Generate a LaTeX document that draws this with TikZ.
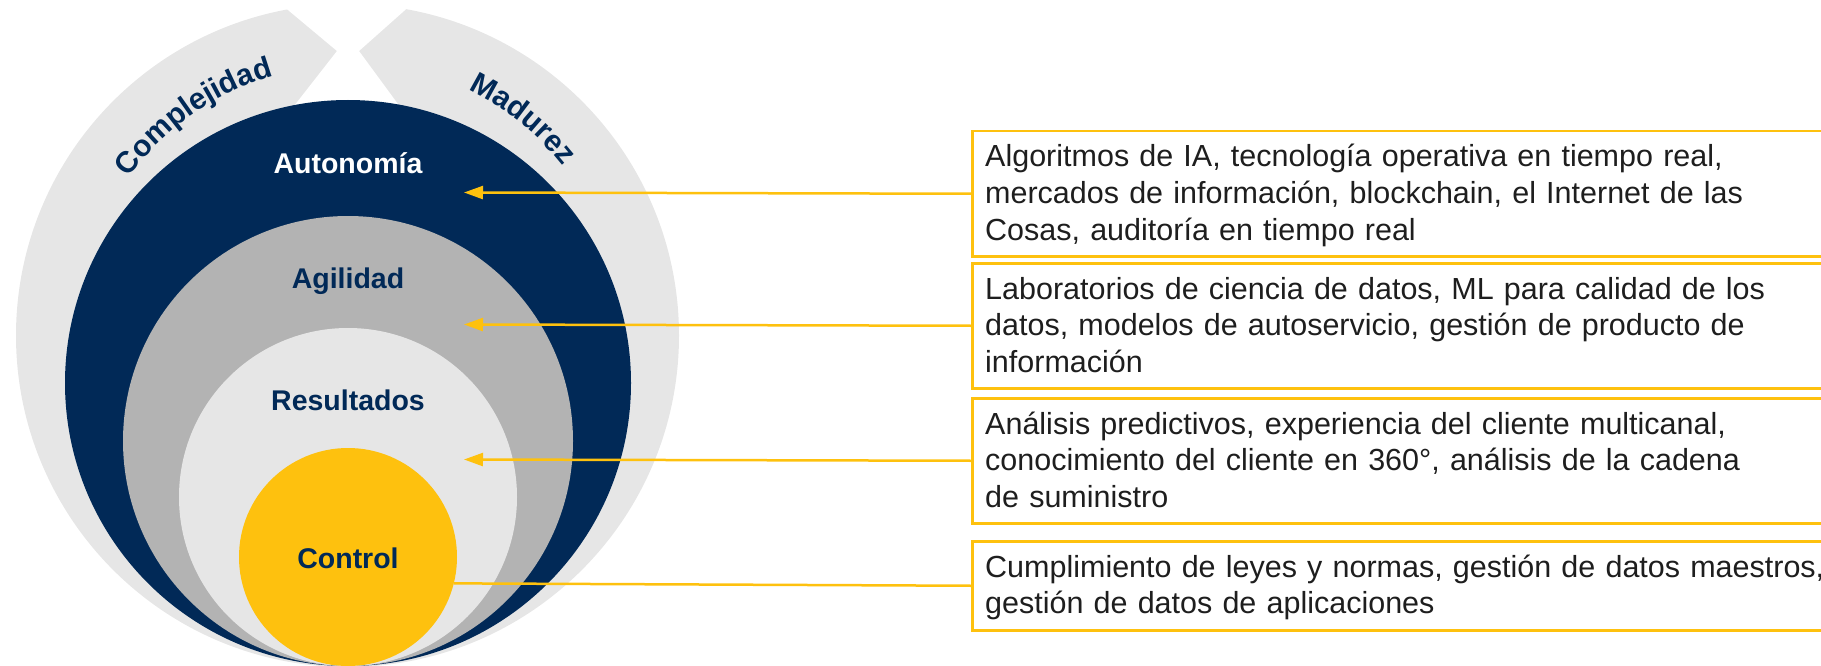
\documentclass[tikz,border=0pt]{standalone}
\usepackage{fontspec}
\setmainfont{Liberation Sans}
\usetikzlibrary{arrows.meta,decorations.text}
\definecolor{navy}{HTML}{012957}
\definecolor{gold}{HTML}{FEC10E}
\definecolor{midgray}{HTML}{B3B3B3}
\definecolor{palegray}{HTML}{E6E6E6}
\definecolor{ink}{HTML}{1E1E1E}
\begin{document}
\begin{tikzpicture}[x=1pt,y=1pt,
  disc/.style={circle, inner sep=0pt, outer sep=0pt, minimum size=#1},
  lbl/.style={font=\fontsize{28.5}{30}\selectfont\bfseries, text=navy, anchor=base, inner sep=0pt},
  infobox/.style={draw=gold, line width=2.5pt, minimum width=900, anchor=north west, inner sep=0pt},
  infotext/.style={font=\fontsize{30.5}{36.7}\selectfont, text=ink, align=left, text width=860, anchor=base west, inner sep=0pt},
  arr/.style={draw=gold, line width=2.5pt, -{Triangle[length=19pt,width=13pt]}},
  link/.style={draw=gold, line width=2.5pt}
]
\useasboundingbox (0,0) rectangle (1821,-666);
\clip (0,0) rectangle (1821,-666);

% concentric discs
\node[disc=663, fill=palegray] (outer) at (347.5,-335.5) {};
\fill[white] (270,5) -- (337,-51) -- (287,-115) -- (406,-115) -- (359,-51) -- (422,5) -- cycle;
\node[disc=566, fill=navy] (auto) at (348,-383) {};
\node[disc=450, fill=midgray] (agil) at (348,-441) {};
\node[disc=338, fill=palegray] (res) at (348,-497) {};
\node[disc=218, fill=gold] (ctl) at (348,-557) {};

% labels
\node[lbl, text=white] (tauto) at (348,-173) {Autonomía};
\node[lbl] (tagil) at (348,-288) {Agilidad};
\node[lbl] (tres) at (348,-410) {Resultados};
\node[lbl] (tctl) at (348,-568) {Control};

% curved labels
\path[decorate, decoration={text along path, text align=center,
  text={|\fontsize{30}{32}\selectfont\bfseries\color{navy}|Complejidad}}]
  (347.5,-335.5) ++(152:270) arc[start angle=152, end angle=98, radius=270];
\path[decorate, decoration={text along path, text align=center,
  text={|\fontsize{30}{32}\selectfont\bfseries\color{navy}|Madurez}}]
  (347.5,-335.5) ++(78:274) arc[start angle=78, end angle=24, radius=274];

% boxes
\node[infobox, minimum height=125] (b1) at (971,-130) {};
\node[infobox, minimum height=125] (b2) at (971,-262) {};
\node[infobox, minimum height=125] (b3) at (971,-397) {};
\node[infobox, minimum height=89] (b4) at (971,-540) {};

\node[infotext] (t1) at (985,-167) {Algoritmos de IA, tecnología operativa en tiempo real,\\mercados de información, blockchain, el Internet de las\\Cosas, auditoría en tiempo real};
\node[infotext] (t2) at (985,-299) {Laboratorios de ciencia de datos, ML para calidad de los\\datos, modelos de autoservicio, gestión de producto de\\información};
\node[infotext] (t3) at (985,-434) {Análisis predictivos, experiencia del cliente multicanal,\\conocimiento del cliente en 360°, análisis de la cadena\\de suministro};
\node[infotext] (t4) at (985,-577) {Cumplimiento de leyes y normas, gestión de datos maestros,\\gestión de datos de aplicaciones};

% connectors
\coordinate (p1) at (464,-192.5);
\coordinate (p2) at (464,-324.5);
\coordinate (p3) at (464,-459.5);
\draw[arr] (b1.west) -- (p1);
\draw[arr] (b2.west) -- (p2);
\draw[arr] (b3.west) -- (p3);
\draw[link] (b4.west) -- (ctl.-14.6);
\end{tikzpicture}
\end{document}
